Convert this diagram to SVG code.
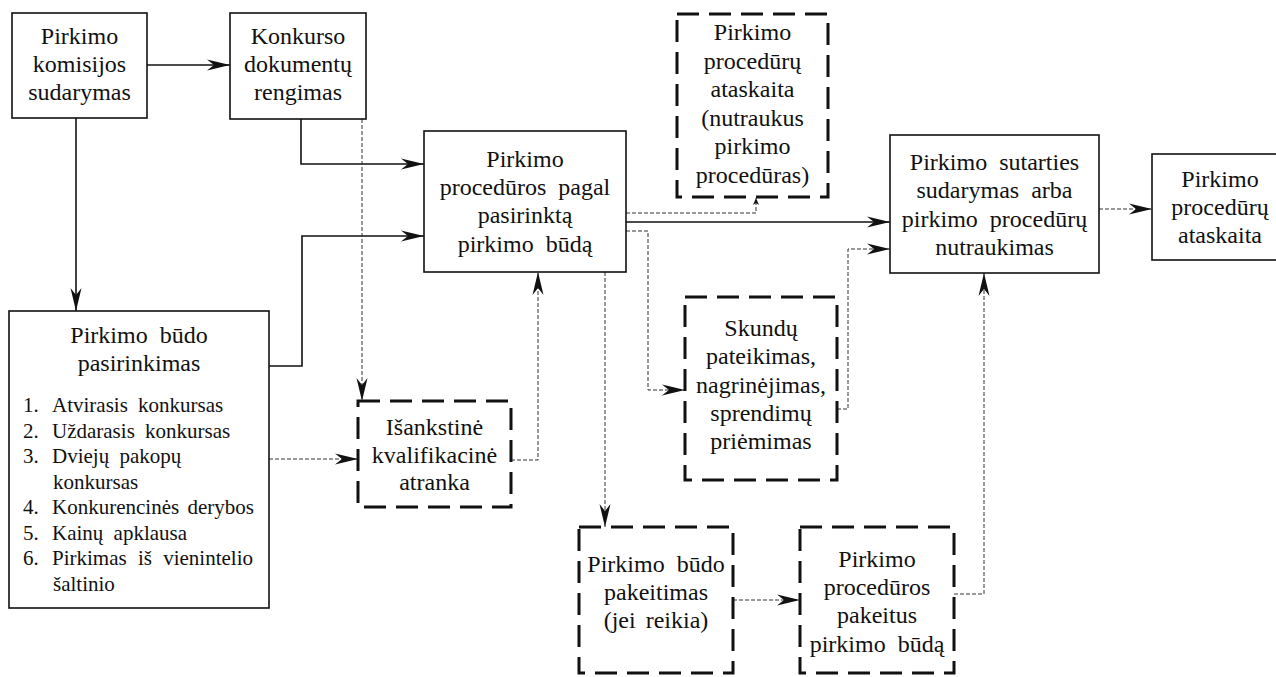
<svg xmlns="http://www.w3.org/2000/svg" width="1276" height="677" viewBox="0 0 1276 677">
<style>
  .box { fill: #fff; stroke: #111; stroke-width: 1.6; }
  .dbox { fill: #fff; stroke: #111; stroke-width: 3; stroke-dasharray: 22 10; }
  .t { font-family: 'Liberation Serif', 'Times New Roman', Times, 'DejaVu Serif', serif; font-size: 24px; fill: #111; text-anchor: middle; }
  .l { font-family: 'Liberation Serif', 'Times New Roman', Times, 'DejaVu Serif', serif; font-size: 21px; fill: #111; }
  .s { fill: none; stroke: #111; stroke-width: 1.6; }
  .d { fill: none; stroke: #333; stroke-width: 1; stroke-dasharray: 4 2; }
</style>
<defs>
  <marker id="ah" markerUnits="userSpaceOnUse" markerWidth="26" markerHeight="14" refX="23" refY="7" orient="auto">
    <path d="M0,1.5 L23,7 L0,12.5 L7,7 Z" fill="#111"/>
  </marker>
  <marker id="ahs" markerUnits="userSpaceOnUse" markerWidth="8" markerHeight="8" refX="7" refY="4" orient="auto">
    <path d="M0,1 L7,4 L0,7 L2,4 Z" fill="#111"/>
  </marker>
</defs>

<g id="connectors">
  <path class="s" d="M147,65 H230" marker-end="url(#ah)"/>
  <path class="s" d="M76,118 V311" marker-end="url(#ah)"/>
  <path class="s" d="M301,119 V164 H424" marker-end="url(#ah)"/>
  <path class="s" d="M269,366 H302 V236 H424" marker-end="url(#ah)"/>
  <path class="d" d="M362,119 V401" marker-end="url(#ah)"/>
  <path class="d" d="M269,459 H358" marker-end="url(#ah)"/>
  <path class="d" d="M511,460 H538 V272" marker-end="url(#ah)"/>
  <path class="d" d="M626,213 H756 V198" marker-end="url(#ahs)"/>
  <path class="s" d="M626,222 H890" marker-end="url(#ah)"/>
  <path class="d" d="M626,231 H648 V390 H685" marker-end="url(#ah)"/>
  <path class="d" d="M837,409 H848 V249 H890" marker-end="url(#ah)"/>
  <path class="d" d="M1099,209 H1152" marker-end="url(#ah)"/>
  <path class="d" d="M605,272 V527" marker-end="url(#ah)"/>
  <path class="d" d="M733,600 H800" marker-end="url(#ah)"/>
  <path class="d" d="M954,594 H984 V273" marker-end="url(#ah)"/>
</g>

<g id="n1">
  <rect class="box" x="12" y="13" width="135" height="105"/>
  <text class="t" x="79.5" y="44">Pirkimo</text>
  <text class="t" x="79.5" y="72">komisijos</text>
  <text class="t" x="79.5" y="100">sudarymas</text>
</g>
<g id="n2">
  <rect class="box" x="230" y="13" width="136" height="106"/>
  <text class="t" x="298" y="44">Konkurso</text>
  <text class="t" x="298" y="72">dokumentų</text>
  <text class="t" x="298" y="100">rengimas</text>
</g>
<g id="n3">
  <rect class="box" x="9" y="311" width="260" height="297"/>
  <text class="t" x="139" y="343" word-spacing="6">Pirkimo būdo</text>
  <text class="t" x="139" y="371">pasirinkimas</text>
  <text class="l" x="23" y="412">1.</text><text class="l" x="52" y="412" word-spacing="5">Atvirasis konkursas</text>
  <text class="l" x="23" y="437.5">2.</text><text class="l" x="52" y="437.5" word-spacing="5">Uždarasis konkursas</text>
  <text class="l" x="23" y="463">3.</text><text class="l" x="52" y="463" word-spacing="5">Dviejų pakopų</text>
  <text class="l" x="53" y="488.5">konkursas</text>
  <text class="l" x="23" y="514">4.</text><text class="l" x="52" y="514" word-spacing="3">Konkurencinės derybos</text>
  <text class="l" x="23" y="539.5">5.</text><text class="l" x="52" y="539.5" word-spacing="5">Kainų apklausa</text>
  <text class="l" x="23" y="565">6.</text><text class="l" x="52" y="565" word-spacing="6">Pirkimas iš vienintelio</text>
  <text class="l" x="53" y="590.5">šaltinio</text>
</g>
<g id="n4">
  <rect class="box" x="424" y="131" width="202" height="141"/>
  <text class="t" x="525" y="167">Pirkimo</text>
  <text class="t" x="525" y="195" word-spacing="6">procedūros pagal</text>
  <text class="t" x="525" y="223">pasirinktą</text>
  <text class="t" x="525" y="252" word-spacing="6">pirkimo būdą</text>
</g>
<g id="n5">
  <rect class="dbox" x="358" y="401" width="153" height="106"/>
  <text class="t" x="434.5" y="435">Išankstinė</text>
  <text class="t" x="434.5" y="463">kvalifikacinė</text>
  <text class="t" x="434.5" y="490">atranka</text>
</g>
<g id="n6">
  <rect class="dbox" x="677" y="14" width="151" height="183"/>
  <text class="t" x="752.5" y="40">Pirkimo</text>
  <text class="t" x="752.5" y="68.5">procedūrų</text>
  <text class="t" x="752.5" y="97">ataskaita</text>
  <text class="t" x="752.5" y="125.5">(nutraukus</text>
  <text class="t" x="752.5" y="154">pirkimo</text>
  <text class="t" x="752.5" y="182.5">procedūras)</text>
</g>
<g id="n7">
  <rect class="box" x="890" y="135" width="209" height="138"/>
  <text class="t" x="994.5" y="170" word-spacing="6">Pirkimo sutarties</text>
  <text class="t" x="994.5" y="198" word-spacing="6">sudarymas arba</text>
  <text class="t" x="994.5" y="227" word-spacing="6">pirkimo procedūrų</text>
  <text class="t" x="994.5" y="255">nutraukimas</text>
</g>
<g id="n8">
  <rect class="dbox" x="685" y="297" width="152" height="183"/>
  <text class="t" x="761" y="336">Skundų</text>
  <text class="t" x="761" y="364">pateikimas,</text>
  <text class="t" x="761" y="393">nagrinėjimas,</text>
  <text class="t" x="761" y="421">sprendimų</text>
  <text class="t" x="761" y="449">priėmimas</text>
</g>
<g id="n9">
  <rect class="box" x="1152" y="154" width="130" height="106"/>
  <text class="t" x="1220" y="187">Pirkimo</text>
  <text class="t" x="1220" y="215">procedūrų</text>
  <text class="t" x="1220" y="243">ataskaita</text>
</g>
<g id="n10">
  <rect class="dbox" x="579" y="527" width="154" height="146"/>
  <text class="t" x="656" y="572" word-spacing="6">Pirkimo būdo</text>
  <text class="t" x="656" y="600">pakeitimas</text>
  <text class="t" x="656" y="628" word-spacing="4">(jei reikia)</text>
</g>
<g id="n11">
  <rect class="dbox" x="800" y="527" width="154" height="146"/>
  <text class="t" x="877" y="567">Pirkimo</text>
  <text class="t" x="877" y="595">procedūros</text>
  <text class="t" x="877" y="623">pakeitus</text>
  <text class="t" x="877" y="652" word-spacing="6">pirkimo būdą</text>
</g>
</svg>
